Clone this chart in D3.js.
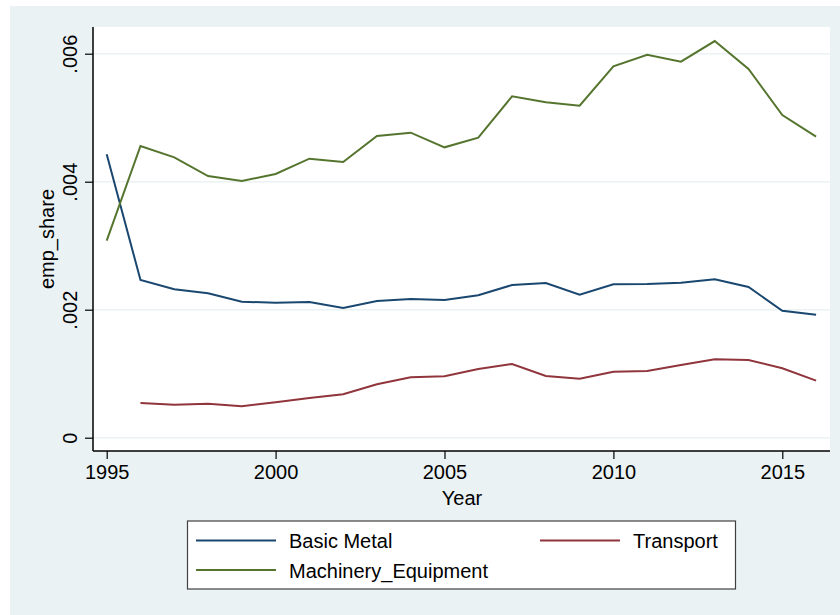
<!DOCTYPE html>
<html>
<head>
<meta charset="utf-8">
<script src="https://cdn.jsdelivr.net/npm/d3@7"></script>
<style>
  html, body { margin: 0; padding: 0; background: #ffffff; }
  svg { display: block; }
  text { font-family: "Liberation Sans", Arial, Helvetica, sans-serif; fill: #000; }
</style>
</head>
<body>
<svg id="chart" width="840" height="615"></svg>
<script>
const years = d3.range(1995, 2017);
const basicMetal = [0.004428, 0.002464, 0.002319, 0.002256, 0.002125, 0.002109, 0.002120, 0.002027, 0.002136, 0.002167, 0.002152, 0.002225, 0.002386, 0.002417, 0.002234, 0.002397, 0.002402, 0.002422, 0.002475, 0.002355, 0.001984, 0.001922];
const transport = [null, 0.000542, 0.000516, 0.000531, 0.000491, 0.000553, 0.000620, 0.000678, 0.000834, 0.000944, 0.000959, 0.001073, 0.001152, 0.000964, 0.000922, 0.001031, 0.001042, 0.001136, 0.001225, 0.001214, 0.001084, 0.000891];
const machinery = [0.003078, 0.004558, 0.004381, 0.004089, 0.004011, 0.004120, 0.004360, 0.004308, 0.004714, 0.004766, 0.004537, 0.004688, 0.005334, 0.005240, 0.005188, 0.005803, 0.005984, 0.005875, 0.006198, 0.005761, 0.005042, 0.004703];
const seriesNames = ["Basic Metal", "Transport", "Machinery_Equipment"];
const seriesColors = ["#1a476f", "#90353b", "#55752f"];
const yTicks = [0, 0.002, 0.004, 0.006];
const yTickLabels = ["0", ".002", ".004", ".006"];
const xTicks = [1995, 2000, 2005, 2010, 2015];

const svg = d3.select("#chart");

// outer background
svg.append("rect").attr("x", 10).attr("y", 6).attr("width", 830).attr("height", 609).attr("fill", "#eaf2f3");

const plot = { left: 93, top: 27, right: 830, bottom: 451 };
svg.append("rect").attr("x", plot.left).attr("y", plot.top)
  .attr("width", plot.right - plot.left).attr("height", plot.bottom - plot.top).attr("fill", "#ffffff");

const x = d3.scaleLinear().domain([1995, 2015]).range([106.7, 782.3]);
const y = d3.scaleLinear().domain([0, 0.006]).range([437.7, 53.7]);

// grid
svg.append("g").selectAll("line").data(yTicks).join("line")
  .attr("x1", plot.left).attr("x2", plot.right)
  .attr("y1", d => y(d)).attr("y2", d => y(d))
  .attr("stroke", "#eaf2f3").attr("stroke-width", 1.5);

// series
const series = [basicMetal, transport, machinery];
const line = d3.line()
  .defined(d => d.v !== null)
  .x(d => x(d.year)).y(d => y(d.v));
series.forEach((vals, i) => {
  const data = years.map((yr, j) => ({ year: yr, v: vals[j] }));
  svg.append("path").datum(data)
    .attr("d", line).attr("fill", "none")
    .attr("stroke", seriesColors[i]).attr("stroke-width", 2)
    .attr("stroke-linejoin", "miter");
});

// axes
const yAxis = d3.axisLeft(y).tickValues(yTicks).tickSize(8).tickFormat((d, i) => yTickLabels[i]);
const gy = svg.append("g").attr("transform", `translate(${plot.left},0)`).call(yAxis);
gy.select(".domain").remove();
gy.append("line").attr("x1", 0).attr("x2", 0).attr("y1", plot.top).attr("y2", plot.bottom)
  .attr("stroke", "#000").attr("stroke-width", 1.5);
gy.selectAll(".tick line").attr("stroke", "#000").attr("stroke-width", 1.2);
gy.selectAll(".tick text")
  .attr("x", null).attr("dy", null)
  .attr("transform", "translate(-16,0) rotate(-90)")
  .attr("text-anchor", "middle")
  .style("font-size", "20px").style("font-family", '"Liberation Sans", Arial, sans-serif').attr("fill", "#000");

const xAxis = d3.axisBottom(x).tickValues(xTicks).tickSize(8).tickFormat(d3.format("d"));
const gx = svg.append("g").attr("transform", `translate(0,${plot.bottom})`).call(xAxis);
gx.select(".domain").remove();
gx.append("line").attr("x1", plot.left).attr("x2", plot.right).attr("y1", 0).attr("y2", 0)
  .attr("stroke", "#000").attr("stroke-width", 1.5);
gx.selectAll(".tick line").attr("stroke", "#000").attr("stroke-width", 1.2);
gx.selectAll(".tick text")
  .attr("y", 28).attr("dy", null)
  .style("font-size", "20px").style("font-family", '"Liberation Sans", Arial, sans-serif').attr("fill", "#000");

// axis titles
svg.append("text").attr("transform", `translate(54,${(plot.top + plot.bottom) / 2}) rotate(-90)`)
  .attr("text-anchor", "middle").style("font-size", "20px").text("emp_share");
svg.append("text").attr("x", 462).attr("y", 505)
  .attr("text-anchor", "middle").style("font-size", "20px").text("Year");

// legend
const lg = svg.append("g");
lg.append("rect").attr("x", 187.5).attr("y", 521).attr("width", 548).attr("height", 68)
  .attr("fill", "#ffffff").attr("stroke", "#404040").attr("stroke-width", 1.2);
const legendItems = [
  { name: seriesNames[0], color: seriesColors[0], lx: 196, ly: 540.5 },
  { name: seriesNames[1], color: seriesColors[1], lx: 540, ly: 540.5 },
  { name: seriesNames[2], color: seriesColors[2], lx: 196, ly: 570 }
];
legendItems.forEach(it => {
  lg.append("line").attr("x1", it.lx).attr("x2", it.lx + 80).attr("y1", it.ly).attr("y2", it.ly)
    .attr("stroke", it.color).attr("stroke-width", 2);
  lg.append("text").attr("x", it.lx + 93).attr("y", it.ly + 7.5)
    .style("font-size", "20px").text(it.name);
});
</script>
</body>
</html>
